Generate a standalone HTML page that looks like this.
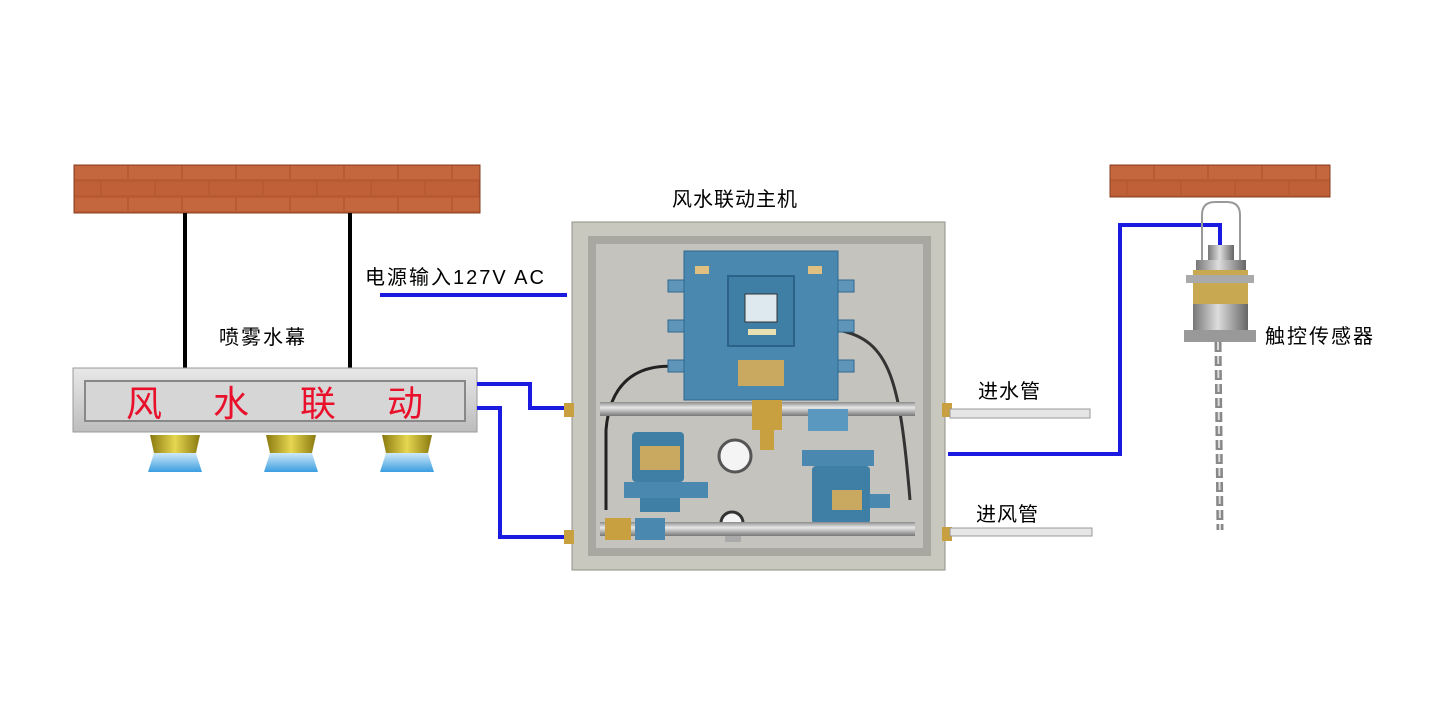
<!DOCTYPE html>
<html><head><meta charset="utf-8"><style>
html,body{margin:0;padding:0;background:#fff;}
svg{display:block;}
text{font-family:"Liberation Sans","Noto Sans CJK SC",sans-serif;}
</style></head><body>
<svg width="1452" height="726" viewBox="0 0 1452 726" xmlns="http://www.w3.org/2000/svg">
<defs>
<pattern id="brick" x="74" y="165" width="108" height="32" patternUnits="userSpaceOnUse">
<rect width="108" height="32" fill="#b85a34"/>
<rect x="1" y="1" width="52" height="13" fill="#c4663e"/>
<rect x="55" y="1" width="52" height="13" fill="#c4663e"/>
<rect x="-26" y="17" width="52" height="13" fill="#bf6038"/>
<rect x="28" y="17" width="52" height="13" fill="#bf6038"/>
<rect x="82" y="17" width="52" height="13" fill="#bf6038"/>
</pattern>
<linearGradient id="bar" x1="0" y1="0" x2="0" y2="1"><stop offset="0" stop-color="#e8e8e8"/><stop offset="1" stop-color="#bdbdbd"/></linearGradient>
<linearGradient id="blu" x1="0" y1="0" x2="0" y2="1"><stop offset="0" stop-color="#cfe8f8"/><stop offset="1" stop-color="#3a9ee0"/></linearGradient>
<linearGradient id="gold" x1="0" y1="0" x2="1" y2="0"><stop offset="0" stop-color="#8a7a10"/><stop offset=".5" stop-color="#e6d650"/><stop offset="1" stop-color="#8a7a10"/></linearGradient>
<linearGradient id="pipe" x1="0" y1="0" x2="0" y2="1"><stop offset="0" stop-color="#8c8c8c"/><stop offset=".4" stop-color="#e8e8e8"/><stop offset="1" stop-color="#777"/></linearGradient>
<linearGradient id="metal" x1="0" y1="0" x2="1" y2="0"><stop offset="0" stop-color="#777"/><stop offset=".45" stop-color="#ddd"/><stop offset="1" stop-color="#666"/></linearGradient>
</defs>

<rect x="74" y="165" width="406" height="48" fill="url(#brick)" stroke="#8a3f20" stroke-width="1"/>
<line x1="185" y1="213" x2="185" y2="368" stroke="#000" stroke-width="4"/>
<line x1="350" y1="213" x2="350" y2="368" stroke="#000" stroke-width="4"/>
<text x="219" y="344" font-size="20" letter-spacing="2">喷雾水幕</text>

<rect x="73" y="368" width="404" height="64" fill="url(#bar)" stroke="#999"/>
<rect x="85" y="381" width="380" height="40" fill="#d6d6d6" stroke="#888" stroke-width="2"/>
<g font-size="36" fill="#e8102a">
<text x="126" y="416">风</text><text x="213" y="416">水</text><text x="300" y="416">联</text><text x="387" y="416">动</text>
</g>
<g>
<path d="M150 435 h50 l-4 18 h-42 z" fill="url(#gold)"/><path d="M154 453 h42 l6 19 h-54 z" fill="url(#blu)"/>
<path d="M266 435 h50 l-4 18 h-42 z" fill="url(#gold)"/><path d="M270 453 h42 l6 19 h-54 z" fill="url(#blu)"/>
<path d="M382 435 h50 l-4 18 h-42 z" fill="url(#gold)"/><path d="M386 453 h42 l6 19 h-54 z" fill="url(#blu)"/>
</g>

<text x="365" y="284" font-size="20" letter-spacing="2">电源输入127V AC</text>
<line x1="380" y1="295" x2="567" y2="295" stroke="#1a1ae0" stroke-width="4"/>
<polyline points="477,384 530,384 530,408 566,408" fill="none" stroke="#1a1ae0" stroke-width="4"/>
<polyline points="477,408 500,408 500,537 566,537" fill="none" stroke="#1a1ae0" stroke-width="4"/>

<text x="672" y="206" font-size="20" letter-spacing="1">风水联动主机</text>
<rect x="572" y="222" width="373" height="348" fill="#c9c8bf" stroke="#8f8f88"/>
<rect x="588" y="236" width="343" height="320" fill="#a9a8a0"/>
<rect x="596" y="244" width="327" height="304" fill="#c4c3bd"/>
<path d="M688 368 C640 360 610 380 606 430 L606 510" fill="none" stroke="#222" stroke-width="3"/>
<path d="M838 330 C890 340 900 380 910 500" fill="none" stroke="#333" stroke-width="3"/>
<rect x="684" y="251" width="154" height="149" fill="#4a88b0" stroke="#2f6a90"/>
<rect x="728" y="276" width="66" height="70" fill="#3f7fa6" stroke="#2c6287" stroke-width="2"/>
<rect x="745" y="294" width="32" height="28" fill="#dde8ef" stroke="#333"/>
<rect x="748" y="329" width="28" height="6" fill="#e8e0b0"/>
<rect x="738" y="360" width="46" height="26" fill="#c9a860"/>
<rect x="695" y="266" width="14" height="8" fill="#e0c080"/><rect x="808" y="266" width="14" height="8" fill="#e0c080"/>
<g fill="#5f95b8" stroke="#2f6a90">
<rect x="668" y="280" width="16" height="12"/><rect x="668" y="320" width="16" height="12"/><rect x="668" y="360" width="16" height="12"/>
<rect x="838" y="280" width="16" height="12"/><rect x="838" y="320" width="16" height="12"/><rect x="838" y="360" width="16" height="12"/>
</g>
<rect x="600" y="402" width="315" height="14" fill="url(#pipe)"/>
<rect x="752" y="400" width="30" height="30" fill="#c8a040"/>
<rect x="760" y="428" width="14" height="22" fill="#c8a040"/>
<rect x="808" y="409" width="40" height="22" fill="#5a98c0"/>
<circle cx="735" cy="456" r="16" fill="#f4f4f4" stroke="#555" stroke-width="3"/>
<circle cx="732" cy="523" r="11" fill="#f4f4f4" stroke="#333" stroke-width="3"/>
<rect x="725" y="534" width="16" height="8" fill="#aaa"/>
<rect x="632" y="432" width="52" height="50" fill="#3f7fa6" rx="4"/>
<rect x="640" y="446" width="40" height="24" fill="#c9a860"/>
<rect x="624" y="482" width="84" height="16" fill="#4a88b0"/>
<rect x="640" y="498" width="40" height="14" fill="#3f7fa6"/>
<rect x="802" y="450" width="72" height="16" fill="#4a88b0"/>
<rect x="812" y="466" width="58" height="58" fill="#3f7fa6" rx="4"/>
<rect x="832" y="490" width="30" height="20" fill="#c9a860"/>
<rect x="870" y="494" width="20" height="14" fill="#4a88b0"/>
<rect x="600" y="522" width="315" height="14" fill="url(#pipe)"/>
<rect x="605" y="518" width="26" height="22" fill="#c8a040"/>
<rect x="635" y="518" width="30" height="22" fill="#4a88b0"/>
<rect x="564" y="403" width="10" height="14" fill="#c8a040"/><rect x="564" y="530" width="10" height="14" fill="#c8a040"/>
<rect x="942" y="403" width="10" height="14" fill="#c8a040"/><rect x="942" y="527" width="10" height="14" fill="#c8a040"/>

<text x="978" y="398" font-size="20" letter-spacing="1">进水管</text>
<rect x="950" y="409" width="140" height="9" fill="#e6e6e6" stroke="#999"/>
<text x="976" y="521" font-size="20" letter-spacing="1">进风管</text>
<rect x="950" y="528" width="142" height="8" fill="#e6e6e6" stroke="#999"/>
<polyline points="948,454 1120,454 1120,225 1220,225 1220,246" fill="none" stroke="#1a1ae0" stroke-width="4"/>

<rect x="1110" y="165" width="220" height="32" fill="url(#brick)" stroke="#8a3f20"/>
<path d="M1202 262 L1202 215 Q1202 202 1215 202 L1227 202 Q1240 202 1240 215 L1240 262" fill="none" stroke="#999" stroke-width="2"/>
<rect x="1208" y="245" width="26" height="15" fill="url(#metal)"/>
<rect x="1196" y="260" width="50" height="10" fill="url(#metal)"/>
<rect x="1193" y="270" width="55" height="34" fill="#c8a850"/>
<rect x="1186" y="275" width="68" height="8" fill="#aaa"/>
<rect x="1193" y="304" width="55" height="32" fill="url(#metal)"/>
<rect x="1184" y="330" width="72" height="12" fill="#999"/>
<line x1="1218" y1="342" x2="1220" y2="530" stroke="#888" stroke-width="7" stroke-dasharray="10 4"/>
<line x1="1218" y1="342" x2="1220" y2="530" stroke="#ddd" stroke-width="2" stroke-dasharray="8 6"/>
<text x="1265" y="343" font-size="20" letter-spacing="2">触控传感器</text>
</svg>
</body></html>
